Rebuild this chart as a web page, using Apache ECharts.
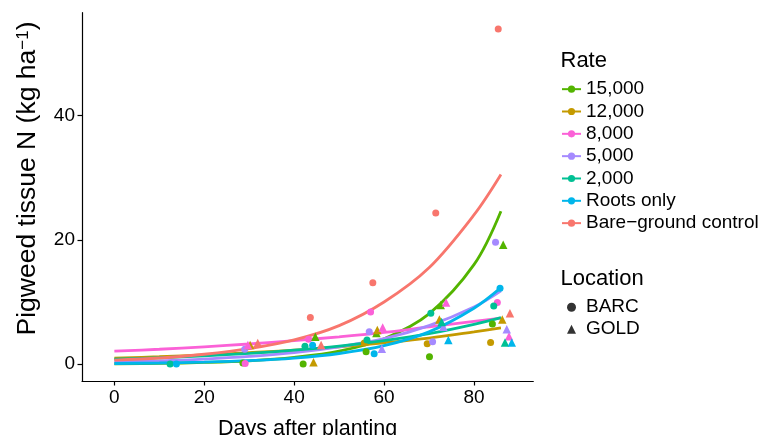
<!DOCTYPE html>
<html>
<head>
<meta charset="utf-8">
<script src="https://cdn.jsdelivr.net/npm/echarts@6/dist/echarts.min.js"></script>
<style>html,body{margin:0;padding:0;background:#fff}#c{width:769px;height:435px}</style>
</head>
<body>
<div id="c"></div>
<script>
// ---- Data ----
const xTicks = [0, 20, 40, 60, 80];
const yTicks = [0, 20, 40];
const rateNames = ['15,000', '12,000', '8,000', '5,000', '2,000', 'Roots only', 'Bare\u2212ground control'];
const rateColors = ['#53B400', '#C49A00', '#FB61D7', '#A58AFF', '#00C094', '#00B6EB', '#F8766D'];
const locationNames = ['BARC', 'GOLD'];

// fitted curves, sampled at these days
const fitDays = [0, 10, 20, 30, 40, 50, 60, 70, 80, 86];
const fit15000 = [0.07, 0.14, 0.28, 0.55, 1.1, 2.1, 4.1, 8.1, 16.0, 24.6];
const fit12000 = [0.97, 1.2, 1.5, 1.85, 2.25, 2.8, 3.45, 4.2, 5.2, 5.85];
const fit8000 = [2.1, 2.4, 2.8, 3.25, 3.8, 4.4, 5.1, 6.0, 6.9, 7.4];
const fit5000 = [0.37, 0.55, 0.83, 1.25, 1.85, 2.8, 4.1, 6.2, 9.2, 11.8];
const fit2000 = [0.8, 1.04, 1.34, 1.74, 2.26, 2.92, 3.8, 4.9, 6.4, 7.5];
const fitRoots = [0.11, 0.19, 0.33, 0.57, 0.99, 1.72, 2.98, 5.2, 9.0, 12.3];
const fitBare = [0.65, 1.0, 1.6, 2.5, 3.9, 6.2, 10.0, 15.5, 24.0, 30.5];

// observations [day, N]
const barc15000 = [[28.6, 0.2], [42.0, 0.05], [56.0, 2.0], [70.1, 1.2], [84.1, 6.45]];
const gold15000 = [[44.7, 4.4], [58.3, 5.0], [72.6, 9.5], [86.5, 19.2]];
const barc12000 = [[55.6, 3.4], [69.6, 3.3], [83.7, 3.5]];
const gold12000 = [[30.2, 3.1], [44.3, 0.3], [58.5, 5.5], [72.3, 7.2], [86.3, 7.2]];
const barc8000 = [[29.1, 0.1], [43.2, 4.0], [57.0, 8.4], [85.2, 9.9]];
const gold8000 = [[29.7, 3.1], [59.7, 5.9], [73.8, 9.9], [87.8, 4.5]];
const barc5000 = [[29.0, 2.4], [56.7, 5.2], [70.8, 3.6], [84.8, 19.6]];
const gold5000 = [[59.5, 2.5], [73.2, 6.0], [87.3, 5.6]];
const barc2000 = [[12.4, 0.05], [42.4, 2.9], [56.2, 3.9], [70.4, 8.2], [84.4, 9.35]];
const gold2000 = [[72.8, 6.8], [86.9, 3.5]];
const barcRoots = [[13.8, 0.05], [44.1, 3.06], [57.8, 1.7], [85.8, 12.2]];
const goldRoots = [[74.3, 3.9], [88.4, 3.5]];
const barcBare = [[43.6, 7.5], [57.5, 13.1], [71.5, 24.3], [85.4, 53.9]];
const goldBare = [[31.9, 3.4], [46.0, 3.1], [88.0, 8.2]];

const fits = [fit15000, fit12000, fit8000, fit5000, fit2000, fitRoots, fitBare];
const barcs = [barc15000, barc12000, barc8000, barc5000, barc2000, barcRoots, barcBare];
const golds = [gold15000, gold12000, gold8000, gold5000, gold2000, goldRoots, goldBare];

const FONT = 'Liberation Sans, Arial, Helvetica, sans-serif';
const series = [];
fits.forEach((f, i) => {
  series.push({
    name: rateNames[i], type: 'line', smooth: 0.35,
    data: fitDays.map((d, k) => [d, f[k]]),
    showSymbol: false, symbol: 'circle', symbolSize: 7,
    lineStyle: { width: 2.8, color: rateColors[i] }, itemStyle: { color: rateColors[i] },
    z: 2, silent: true
  });
});
barcs.forEach((pts, i) => {
  series.push({ name: rateNames[i] + ' BARC', type: 'scatter', data: pts, symbol: 'circle', symbolSize: 7,
    itemStyle: { color: rateColors[i], opacity: 1 }, z: 3, silent: true });
});
golds.forEach((pts, i) => {
  series.push({ name: rateNames[i] + ' GOLD', type: 'scatter', data: pts, symbol: 'triangle', symbolSize: 8.5,
    itemStyle: { color: rateColors[i], opacity: 1 }, z: 3, silent: true });
});
series.push({ name: 'BARC', type: 'scatter', data: [], symbol: 'circle', itemStyle: { color: '#000' } });
series.push({ name: 'GOLD', type: 'scatter', data: [], symbol: 'triangle', itemStyle: { color: '#000' } });

const chart = echarts.init(document.getElementById('c'), null, { renderer: 'canvas' });
chart.setOption({
  animation: false,
  backgroundColor: '#fff',
  textStyle: { fontFamily: FONT },
  grid: { left: 82, right: 235.7, top: 12.7, bottom: 54, containLabel: false, outerBoundsMode: 'none' },
  xAxis: {
    type: 'value', min: -7.2, max: 93.2,
    name: 'Days after planting', nameLocation: 'middle', nameGap: 37,
    nameTextStyle: { fontSize: 21.5, color: '#000', fontFamily: FONT },
    axisLine: { show: true, onZero: false, lineStyle: { color: '#000', width: 1.2 } },
    axisTick: { show: true, length: 4.5, lineStyle: { color: '#000', width: 1.2 }, customValues: xTicks },
    axisLabel: { fontSize: 19, color: '#000', margin: 7, fontFamily: FONT, customValues: xTicks },
    splitLine: { show: false }
  },
  yAxis: {
    type: 'value', min: -2.7, max: 56.5,
    axisLine: { show: true, onZero: false, lineStyle: { color: '#000', width: 1.2 } },
    axisTick: { show: true, length: 4.5, lineStyle: { color: '#000', width: 1.2 }, customValues: yTicks },
    axisLabel: { fontSize: 19, color: '#000', margin: 7, fontFamily: FONT, customValues: yTicks },
    splitLine: { show: false }
  },
  legend: [
    {
      data: rateNames, orient: 'vertical', left: 561, top: 78, padding: 0,
      itemWidth: 19, itemHeight: 9, itemGap: 0,
      textStyle: { fontSize: 19, color: '#000', fontFamily: FONT, lineHeight: 22.33 },
      selectedMode: false
    },
    {
      data: locationNames, orient: 'vertical', left: 567, top: 296.2, padding: 0,
      itemWidth: 9, itemHeight: 9, itemGap: 0,
      textStyle: { fontSize: 19, color: '#000', fontFamily: FONT, lineHeight: 22, padding: [0, 0, 0, 5] },
      selectedMode: false
    }
  ],
  graphic: [
    { type: 'text', left: 560.5, top: 50, style: { text: 'Rate', fontSize: 22, fill: '#000', fontFamily: FONT } },
    { type: 'text', left: 560.5, top: 267.5, style: { text: 'Location', fontSize: 22, fill: '#000', fontFamily: FONT } },
    {
      type: 'text', x: 28, y: 178.5, rotation: Math.PI / 2,
      style: {
        text: 'Pigweed tissue N (kg ha{s|\u22121})', fontSize: 26.5, fill: '#000', fontFamily: FONT,
        align: 'center', verticalAlign: 'middle',
        rich: { s: { fontSize: 17, verticalAlign: 'top', fontFamily: FONT, fill: '#000' } }
      }
    }
  ],
  series: series
});
</script>
</body>
</html>
